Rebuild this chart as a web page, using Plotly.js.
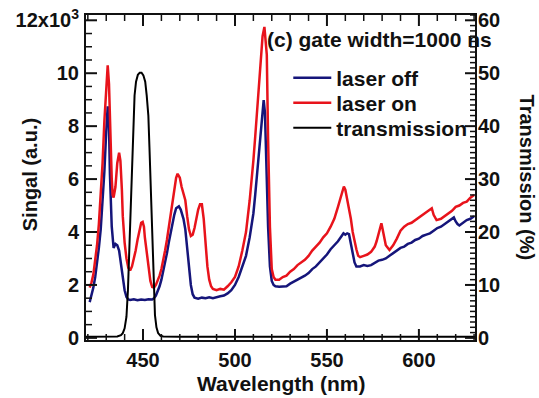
<!DOCTYPE html>
<html>
<head>
<meta charset="utf-8">
<script src="https://cdn.plot.ly/plotly-3.0.1.min.js"></script>
<style>html,body{margin:0;padding:0;background:#fff}#chart{width:539px;height:398px}</style>
</head>
<body>
<div id="chart"></div>
<script>
// laser off (blue), wavelength in nm, signal in 10^3 a.u.
var wlOff = [421,422,423,424,425,426,427,428,429,430,430.8,431.5,432,433,433.5,434,435,436,437,438,439,440,441,442,443,445,447,449,451,453,455,456,457,458,459,460,461,462,463,464,465,466,467,468,469.5,470.5,471,472,473,474,475,476,477,478,480,482,484,486,488,490,492,494,496,498,500,502,504,506,508,509,510,511,512,513,514,515,515.6,516.3,517,518,519,520,521,522,524,526,528,530,532,534,536,538,540,542,544,546,548,550,552,554,556,558,559,560,561,562,563,564,565,566,568,570,572,574,576,578,580,582,584,586,588,590,592,594,596,598,600,602,604,606,608,610,612,614,616,618,619,620,621,622,624,626,628,630];
var sigOff = [1.35,1.6,1.9,2.3,2.8,3.4,4.1,5.1,6.3,7.8,8.75,8.0,6.2,4.2,3.6,3.4,3.55,3.5,3.3,2.8,2.2,1.8,1.55,1.45,1.43,1.46,1.42,1.45,1.43,1.46,1.45,1.5,1.6,1.75,1.95,2.2,2.5,2.8,3.2,3.6,4.0,4.35,4.65,4.9,4.97,4.85,4.75,4.5,4.1,3.4,2.6,2.0,1.65,1.52,1.48,1.52,1.5,1.53,1.5,1.55,1.57,1.6,1.68,1.8,2.0,2.3,2.7,3.1,3.8,4.2,4.7,5.4,6.2,6.9,7.8,8.7,8.98,8.5,6.5,4.2,2.7,2.15,2.0,1.95,1.93,1.95,1.95,2.05,2.12,2.2,2.25,2.35,2.45,2.6,2.7,2.85,3.0,3.15,3.35,3.5,3.65,3.85,3.95,3.9,3.95,3.92,3.6,3.2,2.85,2.7,2.7,2.75,2.72,2.75,2.85,2.92,2.95,3.0,3.1,3.2,3.3,3.4,3.45,3.55,3.6,3.7,3.75,3.85,3.9,3.95,4.05,4.15,4.2,4.3,4.4,4.5,4.55,4.4,4.3,4.25,4.35,4.45,4.5,4.6];

// laser on (red)
var wlOn = [421,422,423,424,425,426,427,428,429,430,430.8,431.5,432,433,433.5,434,435,436,437,437.7,438.5,439,440,441,442,443,444,445,446,447,448,449,449.8,450.5,451,452,453,454,455,456,457,458,459,460,461,462,463,464,465,466,467,468,468.8,470,471,472,473,474,475,476,477,478,479,480,481,482,483,484,485,486,487,488,490,492,494,496,498,500,502,504,506,508,509,510,511,512,513,514,515,516,516.7,517.3,518,519,520,521,522,524,526,528,530,532,534,536,538,540,542,544,546,548,550,552,554,556,558,559.2,560,561,562,563,564,565,566,567,568,570,572,574,576,577,578,579,579.6,580,581,582,584,586,588,590,592,594,596,598,600,602,604,606,607,608,609.6,612,615,618,620,622,624,626,628,630];
var sigOn = [1.9,2.1,2.4,2.9,3.5,4.3,5.3,6.6,8.2,9.6,10.3,9.6,8.0,6.0,5.4,5.3,5.7,6.6,7.0,6.7,5.6,4.6,3.6,3.0,2.65,2.55,2.7,2.95,3.3,3.7,4.1,4.35,4.38,4.2,3.8,3.2,2.6,2.15,1.92,1.9,2.0,2.15,2.35,2.6,2.9,3.3,3.7,4.2,4.7,5.2,5.7,6.05,6.2,6.05,5.7,5.45,5.2,4.6,4.1,3.85,3.9,4.15,4.5,4.85,5.05,5.05,4.5,3.6,2.7,2.2,1.95,1.85,1.8,1.85,1.82,1.95,2.1,2.3,2.7,3.3,4.0,5.2,5.9,6.7,7.6,8.6,9.7,10.6,11.4,11.75,11.2,10.7,7.5,4.2,2.6,2.3,2.2,2.2,2.3,2.35,2.5,2.6,2.75,2.85,2.95,3.1,3.3,3.45,3.6,3.8,3.95,4.2,4.5,4.95,5.45,5.72,5.6,5.25,4.9,4.5,4.0,3.6,3.35,3.1,3.05,3.1,3.15,3.25,3.45,3.65,3.95,4.25,4.33,4.2,3.8,3.5,3.32,3.5,3.75,4.05,4.2,4.3,4.35,4.45,4.55,4.65,4.75,4.85,4.9,4.65,4.45,4.5,4.65,4.8,4.95,5.0,5.1,5.15,5.3,5.4];

// transmission (%), right axis
var wlT = [419,430,436,438,439,440,441,441.8,442.5,443,443.6,444.2,444.7,445.4,446.2,447.2,448.2,449.2,450.2,451.2,452,452.9,453.5,454.1,454.6,455,455.7,456.5,457.3,458.2,459.5,461,470,500,631];
var trans = [0.2,0.2,0.25,0.5,0.9,1.8,4.0,9,16.9,23,29.5,36.5,42,45.8,48.4,49.7,50.1,50.1,49.6,48.4,45.8,42,36,29.5,23,16.9,9.5,4.3,2.0,0.9,0.4,0.25,0.2,0.2,0.2];

// tick values
var yTickVals = [0,2,4,6,8,10,12];
var yTickText = ['0','2','4','6','8','10','12x10<sup>3</sup>'];
var xTickVals = [450,500,550,600];
var y2TickVals = [0,10,20,30,40,50,60];
var xMinorStep = 10, yMinorStep = 0.5, y2MinorStep = 1;

var xRange = [419, 630.5], yRange = [-0.08, 12.2], y2Range = [-0.4, 61];
var F = 'Arial, "Liberation Sans", sans-serif';
var TF = {family: F, size: 20, color: '#111', weight: 'bold'};
var LF = {family: F, size: 21, color: '#111', weight: 'bold'};
var traces = [
  {x: wlOff, y: sigOff, name: 'laser off', legend: 'legend', type: 'scatter', mode: 'lines', line: {color: '#15157a', width: 2.5}},
  {x: wlOn, y: sigOn, name: 'laser on', legend: 'legend2', type: 'scatter', mode: 'lines', line: {color: '#e8131b', width: 2.5}},
  {x: wlT, y: trans, name: 'transmission', legend: 'legend3', type: 'scatter', mode: 'lines', yaxis: 'y2', line: {color: '#000000', width: 2}}
];
function leg(yv) {
  return {x: 0.52, y: yv, xanchor: 'left', yanchor: 'middle', bgcolor: 'rgba(0,0,0,0)', itemwidth: 38, font: LF};
}

// inward tick marks, built from the tick values and axis ranges (pixel-length lines on the frame)
var shapes = [];
function isMajor(v, majors) {
  for (var i = 0; i < majors.length; i++) if (Math.abs(majors[i] - v) < 1e-6) return true;
  return false;
}
function frac(v, r) { return (v - r[0]) / (r[1] - r[0]); }
function xTick(v, len, w) {
  var p = frac(v, xRange);
  [[0, len], [1, -len]].forEach(function (a) {
    shapes.push({type: 'line', xref: 'paper', yref: 'paper', ysizemode: 'pixel', yanchor: a[0],
      x0: p, x1: p, y0: 0, y1: a[1], line: {color: '#111', width: w}});
  });
}
function yTick(r, anchor, v, len, w) {
  var p = frac(v, r);
  shapes.push({type: 'line', xref: 'paper', yref: 'paper', xsizemode: 'pixel', xanchor: anchor,
    x0: 0, x1: anchor === 0 ? len : -len, y0: p, y1: p, line: {color: '#111', width: w}});
}
for (var xv = Math.ceil(xRange[0] / xMinorStep) * xMinorStep; xv < xRange[1]; xv += xMinorStep) {
  if (isMajor(xv, xTickVals)) xTick(xv, 11, 2); else xTick(xv, 6, 1.5);
}
for (var k = 0; k * yMinorStep <= yRange[1]; k++) {
  var yv = k * yMinorStep;
  if (isMajor(yv, yTickVals)) yTick(yRange, 0, yv, 11, 2); else yTick(yRange, 0, yv, 6, 1.5);
}
for (var j = 0; j * y2MinorStep <= y2Range[1]; j++) {
  var y2v = j * y2MinorStep;
  if (isMajor(y2v, y2TickVals)) yTick(y2Range, 1, y2v, 10, 2); else yTick(y2Range, 1, y2v, 5, 1.5);
}

var layout = {
  width: 539, height: 398,
  margin: {l: 86, r: 64, t: 15, b: 58},
  paper_bgcolor: '#fff', plot_bgcolor: '#fff',
  font: {family: F, size: 20, color: '#111'},
  showlegend: true,
  legend: leg(0.806), legend2: leg(0.729), legend3: leg(0.652),
  xaxis: {range: xRange, tickmode: 'array', tickvals: xTickVals, ticks: '', tickfont: TF,
          showline: true, linewidth: 2, linecolor: '#111', mirror: true,
          showgrid: false, zeroline: false, ticklabelstandoff: 1},
  yaxis: {range: yRange, tickmode: 'array', tickvals: yTickVals, ticktext: yTickText, ticks: '', tickfont: TF,
          showline: true, linewidth: 2, linecolor: '#111', mirror: false,
          showgrid: false, zeroline: false, ticklabelstandoff: 1},
  yaxis2: {range: y2Range, overlaying: 'y', side: 'right', tickmode: 'array', tickvals: y2TickVals, ticks: '', tickfont: TF,
          showline: true, linewidth: 2, linecolor: '#111',
          showgrid: false, zeroline: false, ticklabelstandoff: -3},
  shapes: shapes,
  annotations: [
    {text: '(c) gate width=1000 ns', xref: 'paper', yref: 'paper', x: 0.46, y: 0.925, xanchor: 'left', yanchor: 'middle',
     showarrow: false, font: LF},
    {text: 'Singal (a.u.)', xref: 'paper', yref: 'paper', x: -0.144, y: 0.51, xanchor: 'center', yanchor: 'middle', textangle: -90,
     showarrow: false, font: TF},
    {text: 'Transmission (%)', xref: 'paper', yref: 'paper', x: 1.136, y: 0.5, xanchor: 'center', yanchor: 'middle', textangle: 90,
     showarrow: false, font: TF},
    {text: 'Wavelength (nm)', xref: 'paper', yref: 'paper', x: 0.5, y: -0.135, xanchor: 'center', yanchor: 'middle',
     showarrow: false, font: LF}
  ]
};
Plotly.newPlot('chart', traces, layout, {displayModeBar: false});
</script>
</body>
</html>
